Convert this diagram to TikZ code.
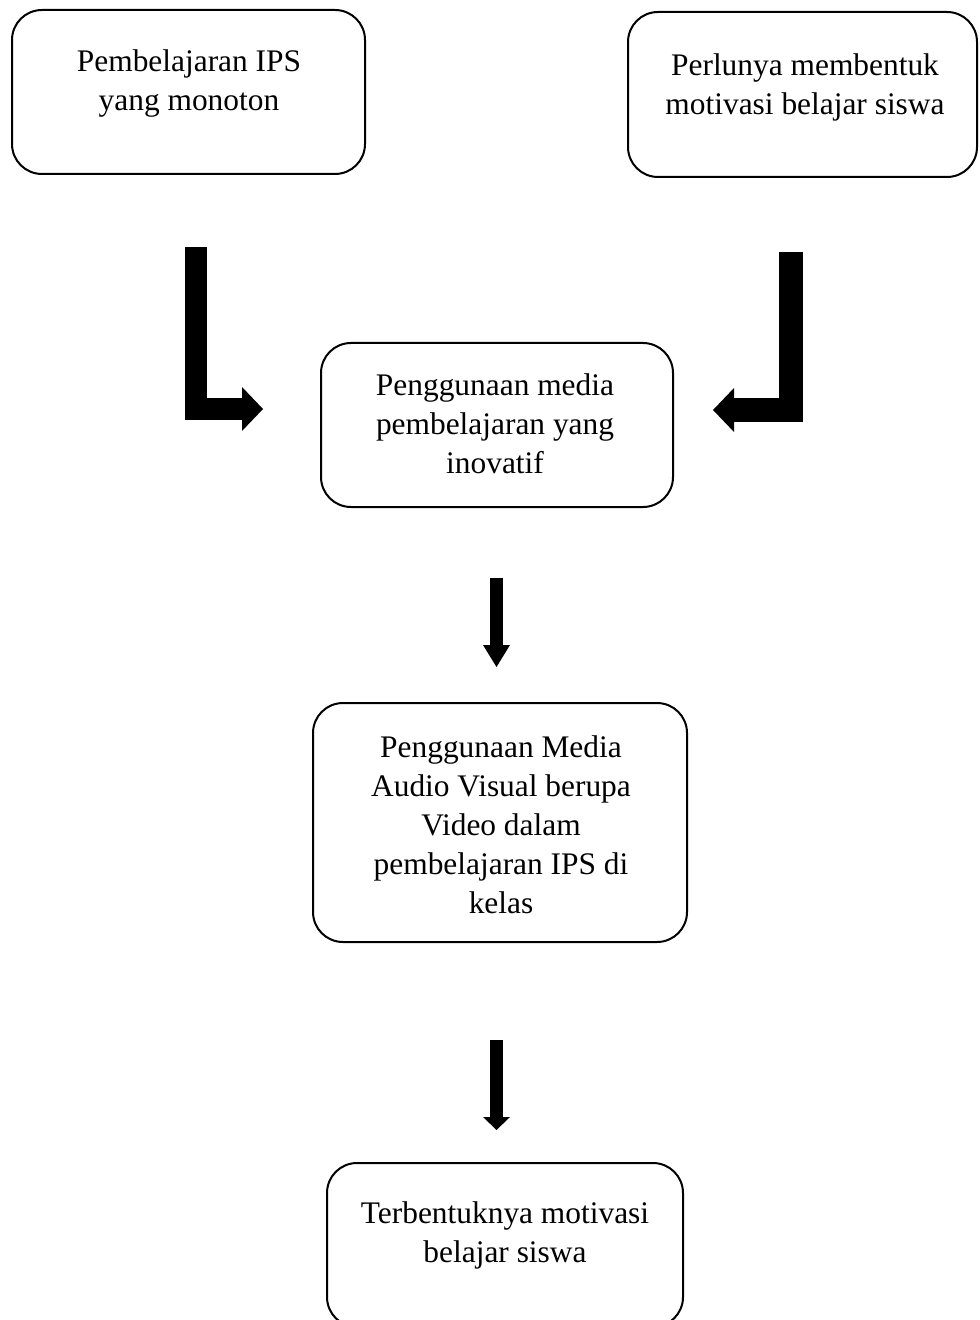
\documentclass[tikz,border=0pt]{standalone}
\usepackage{fontspec}
\setmainfont{Liberation Serif}
\usetikzlibrary{arrows.meta}
\tikzset{
  box/.style={draw=black, line width=1pt, rounded corners=15pt, inner sep=0pt},
  txt/.style={anchor=north, inner sep=0pt, align=center, font=\fontsize{15.7}{19.6}\selectfont},
  bentarrow/.style={line width=11pt, line join=miter, -{Triangle[length=10.5pt, width=22pt, line width=0pt]}},
  downarrow/.style={line width=6.5pt, -{Triangle[length=11pt, width=13.5pt, line width=0pt]}},
  downarrowflat/.style={line width=6.5pt, -{Triangle[length=6.5pt, width=13.5pt, line width=0pt]}}
}
\begin{document}
\begin{tikzpicture}[x=0.5pt, y=-0.5pt]
\useasboundingbox (0,0) rectangle (979,1320);
\clip (0,0) rectangle (979,1320);
% boxes
\node[box, minimum width=176.5pt, minimum height=82pt] (b1) at (188.5,92) {};
\node[box, minimum width=174.5pt, minimum height=82.5pt] (b2) at (802.5,94.5) {};
\node[box, minimum width=176pt, minimum height=82pt] (b3) at (497,425) {};
\node[box, minimum width=187pt, minimum height=119.5pt] (b4) at (500,822.5) {};
\node[box, minimum width=178pt, minimum height=82pt] (b5) at (505,1245) {};
% texts
\node[txt] (t1) at (189,49) {Pembelajaran IPS\\yang monoton};
\node[txt] (t2) at (805,53) {Perlunya membentuk\\motivasi belajar siswa};
\node[txt] (t3) at (495,373) {Penggunaan media\\pembelajaran yang\\inovatif};
\node[txt] (t4) at (501,735) {Penggunaan Media\\Audio Visual berupa\\Video dalam\\pembelajaran IPS di\\kelas};
\node[txt] (t5) at (505,1201) {Terbentuknya motivasi\\belajar siswa};
% arrow end points
\coordinate (a1s) at (196,247);
\coordinate (a1e) at (263,409);
\coordinate (a2s) at (791,252);
\coordinate (a2e) at (713,410);
\coordinate (a3s) at (496.5,578);
\coordinate (a3e) at (496.5,667);
\coordinate (a4s) at (496.5,1040);
\coordinate (a4e) at (496.5,1130);
% arrows
\draw[bentarrow] (a1s) |- (a1e);
\draw[bentarrow, line width=12pt] (a2s) |- (a2e);
\draw[downarrow] (a3s) -- (a3e);
\draw[downarrowflat] (a4s) -- (a4e);
\end{tikzpicture}
\end{document}
